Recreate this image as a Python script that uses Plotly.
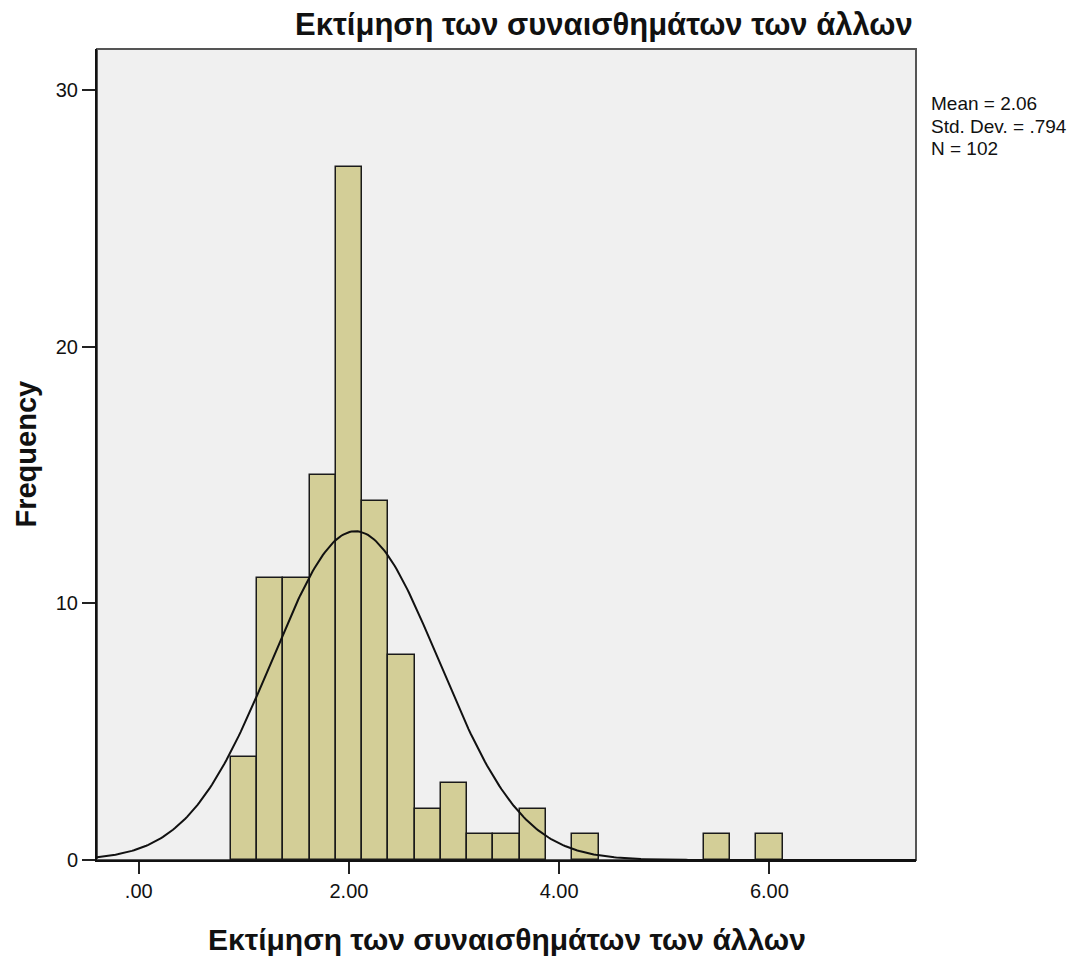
import numpy as np
import plotly.graph_objects as go

# Data
bin_centers = [1.0, 1.25, 1.5, 1.75, 2.0, 2.25, 2.5, 2.75, 3.0, 3.25, 3.5, 3.75, 4.25, 5.5, 6.0]
counts = [4, 11, 11, 15, 27, 14, 8, 2, 3, 1, 1, 2, 1, 1, 1]
bin_width = 0.25
mean_val = 2.06
std_val = 0.794
n_val = 102
x_tickvals = [0, 2, 4, 6]
x_ticktext = [".00", "2.00", "4.00", "6.00"]
y_tickvals = [0, 10, 20, 30]
title_text = "Εκτίμηση των συναισθημάτων των άλλων"
stats_lines = ["Mean = 2.06", "Std. Dev. = .794", "N = 102"]

x_range = [-0.397, 7.395]
y_range = [0, 31.6]

# Fitted normal curve from the displayed statistics
xc = np.linspace(x_range[0], x_range[1], 400)
yc = n_val * bin_width / (std_val * np.sqrt(2 * np.pi)) * np.exp(-0.5 * ((xc - mean_val) / std_val) ** 2)

FONT = "Liberation Sans, Arial, sans-serif"

fig = go.Figure()
fig.add_trace(go.Bar(
    x=bin_centers, y=counts, width=bin_width,
    marker=dict(color="#D3CE97", line=dict(color="#1a1a1a", width=1.5)),
    showlegend=False, hoverinfo="x+y",
))
fig.add_trace(go.Scatter(
    x=xc, y=yc, mode="lines",
    line=dict(color="#111111", width=2),
    showlegend=False, hoverinfo="skip",
))

fig.update_layout(
    width=1090, height=956,
    margin=dict(l=97, r=174, t=49, b=96),
    paper_bgcolor="white",
    plot_bgcolor="#F0F0F0",
    font=dict(family=FONT, color="#111111"),
    bargap=0,
    xaxis=dict(
        range=x_range, tickvals=x_tickvals, ticktext=x_ticktext,
        showgrid=False, zeroline=False,
        showline=True, linecolor="#111111", linewidth=2,
        ticks="outside", ticklen=12, tickwidth=2, tickcolor="#222222",
        tickfont=dict(size=20, family=FONT, color="#111111"),
    ),
    yaxis=dict(
        range=y_range, tickvals=y_tickvals,
        showgrid=False, zeroline=False,
        showline=True, linecolor="#111111", linewidth=2,
        ticks="outside", ticklen=13, tickwidth=2, tickcolor="#222222",
        tickfont=dict(size=20, family=FONT, color="#111111"),
    ),
)

# Plot frame (top/right)
fig.add_shape(type="rect", xref="paper", yref="paper", x0=0, y0=0, x1=1, y1=1,
              line=dict(color="#555555", width=2), layer="below")

# Title
fig.add_annotation(text="<b>" + title_text + "</b>", xref="paper", yref="paper",
                   x=0.619, y=1.0296, xanchor="center", yanchor="middle",
                   showarrow=False, font=dict(size=31, family=FONT, color="#111111"))
# X axis title
fig.add_annotation(text="<b>" + title_text + "</b>", xref="paper", yref="paper",
                   x=0.5, y=-0.0986, xanchor="center", yanchor="middle",
                   showarrow=False, font=dict(size=30, family=FONT, color="#111111"))
# Y axis title
fig.add_annotation(text="<b>Frequency</b>", xref="paper", yref="paper",
                   x=-0.0879, y=0.5, xanchor="center", yanchor="middle", textangle=-90,
                   showarrow=False, font=dict(size=29, family=FONT, color="#111111"))

# Stats box (one annotation per line, centers at ~104, 126, 148 px)
for line, ypx in zip(stats_lines, [104, 126, 148]):
    fig.add_annotation(text=line, xref="paper", yref="paper",
                       x=1.0171, y=(860 - ypx) / 811, xanchor="left", yanchor="middle",
                       borderpad=0,
                       showarrow=False, font=dict(size=19, family=FONT, color="#111111"))

fig.write_html("out.html")
